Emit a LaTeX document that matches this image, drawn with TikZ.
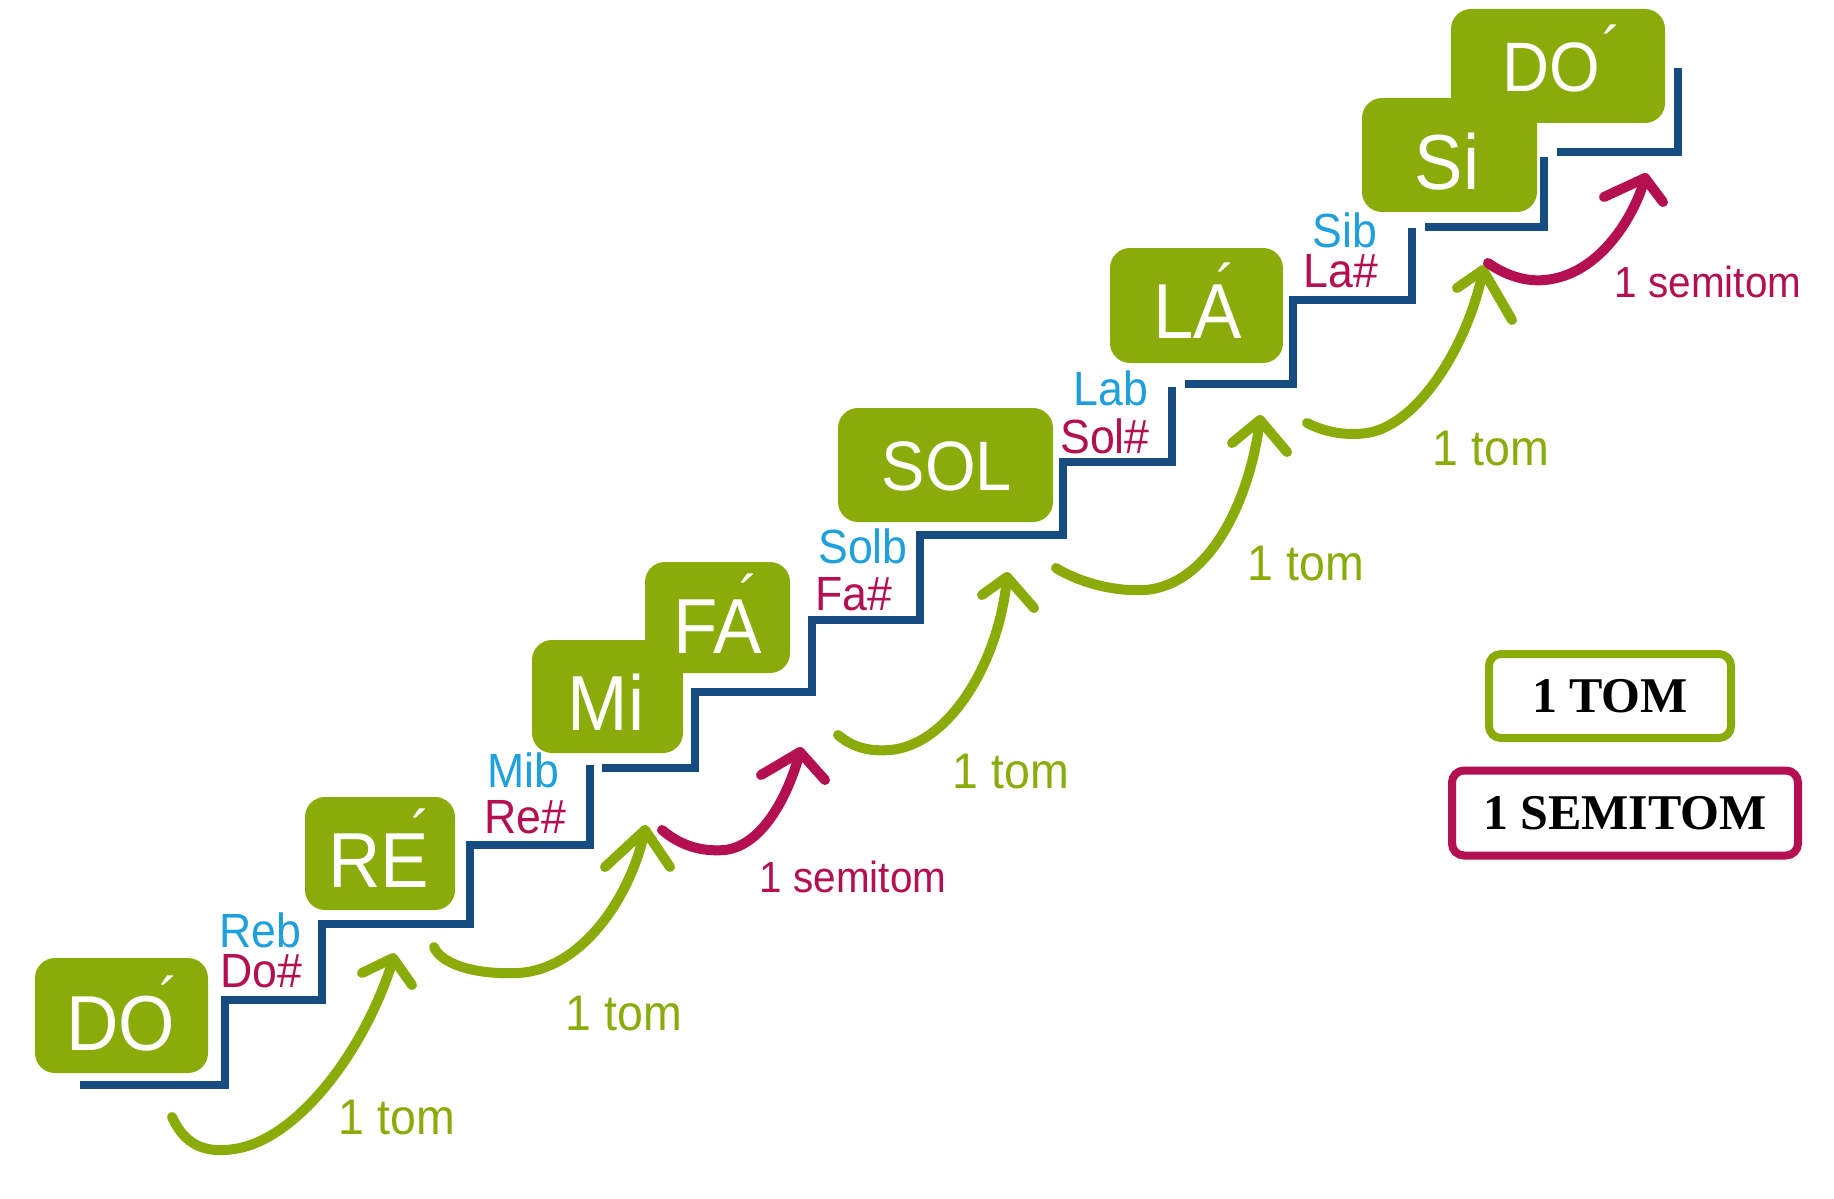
\documentclass[tikz,border=0pt]{standalone}
\usepackage{fontspec}
\setmainfont{Liberation Sans}
\newfontfamily\nsans[FakeStretch=0.93]{Liberation Sans}
\newfontfamily\lserif{Liberation Serif}
\definecolor{notegreen}{RGB}{137,172,10}
\definecolor{stairblue}{RGB}{22,76,128}
\definecolor{flatblue}{RGB}{30,160,220}
\definecolor{sharpred}{RGB}{180,15,80}
\newcommand{\accmark}[2]{\rlap{\kern#1\raisebox{#2}{\nsans\fontsize{24.8}{24.8}\selectfont ´}}}
\begin{document}
\begin{tikzpicture}[x=0.4pt,y=-0.4pt,
  notebox/.style={fill=notegreen, rounded corners=8pt},
  stair/.style={draw=stairblue, line width=3.2pt, line join=miter},
  tomarc/.style={draw=notegreen, line width=4pt, line cap=round, line join=round},
  semiarc/.style={draw=sharpred, line width=4pt, line cap=round, line join=round},
  notelabel/.style={text=white, font=\nsans\fontsize{31.2}{31.2}\selectfont, anchor=base, inner sep=0pt},
  smalllabel/.style={text=white, font=\nsans\fontsize{28}{28}\selectfont, anchor=base, inner sep=0pt},
  flatlabel/.style={text=flatblue, font=\nsans\fontsize{19.2}{19.2}\selectfont, anchor=base, inner sep=0pt},
  sharplabel/.style={text=sharpred, font=\nsans\fontsize{19.2}{19.2}\selectfont, anchor=base, inner sep=0pt},
  tomlabel/.style={text=notegreen, font=\nsans\fontsize{20}{20}\selectfont, anchor=base, inner sep=0pt},
  semilabel/.style={text=sharpred, font=\nsans\fontsize{17.4}{17.4}\selectfont, anchor=base, inner sep=0pt},
  keybox/.style={draw, line width=3.2pt, rounded corners=4.8pt, fill=white, text=black,
     font=\lserif\bfseries\fontsize{20}{20}\selectfont, inner sep=0pt}
]
\useasboundingbox (0,0) rectangle (1834,1199);

% staircase
\draw[stair] (80,1085) -- (225,1085) -- (225,1000) -- (322,1000) -- (322,924) -- (470,924)
   -- (470,845) -- (590,845) -- (590,765);
\draw[stair] (602,768) -- (695,768) -- (695,692) -- (812,692) -- (812,620) -- (920,620)
   -- (920,535) -- (1063,535) -- (1063,462) -- (1172,462) -- (1172,387);
\draw[stair] (1185,384) -- (1293,384) -- (1293,300) -- (1412,300) -- (1412,228);
\draw[stair] (1425,227) -- (1544,227) -- (1544,157);
\draw[stair] (1557,152) -- (1678,152) -- (1678,68);

% note boxes
\fill[notebox] (35,958) rectangle (208,1073);
\fill[notebox] (305,797) rectangle (455,910);
\fill[notebox] (532,640) rectangle (683,753);
\fill[notebox] (645,562) rectangle (790,673);
\fill[notebox] (838,408) rectangle (1053,522);
\fill[notebox] (1110,248) rectangle (1283,363);
\fill[notebox] (1362,98) rectangle (1537,212);
\fill[notebox] (1451,9) rectangle (1665,123);

% note names
\node[notelabel] (do1) at (121,1050) {DO\accmark{-6.4pt}{11.6pt}};
\node[notelabel] (re) at (379,887) {RE\accmark{-7.2pt}{13.2pt}};
\node[notelabel] (mi) at (606,730) {Mi};
\node[notelabel] (fa) at (718,653) {FA\accmark{-9.2pt}{13.6pt}};
\node[smalllabel] (sol) at (947,490) {SOL};
\node[notelabel] (la) at (1198,338) {LA\accmark{-10.4pt}{12pt}};
\node[notelabel] (si) at (1447,190) {Si};
\node[smalllabel] (do2) at (1551,92) {DO\accmark{1pt}{8.4pt}};

% accidentals
\node[flatlabel] (reb) at (260,947) {Reb};
\node[sharplabel] (dos) at (261,987) {Do\#};
\node[flatlabel] (mib) at (523,787) {Mib};
\node[sharplabel] (res) at (525,833) {Re\#};
\node[flatlabel] (solb) at (863,563) {Solb};
\node[sharplabel] (fas) at (854,610) {Fa\#};
\node[flatlabel] (lab) at (1111,405) {Lab};
\node[sharplabel] (sols) at (1105,453) {Sol\#};
\node[flatlabel] (sib) at (1345,248) {Sib};
\node[sharplabel] (las) at (1341,287) {La\#};

% interval arrows
\draw[tomarc] (172,1117) .. controls (185,1145) and (205,1155) .. (240,1148)
   .. controls (300,1135) and (365,1050) .. (393,960);
\draw[tomarc] (362,973) -- (393,958) -- (412,985);
\node[tomlabel] (t1) at (397,1134) {1 tom};

\draw[tomarc] (434,947) .. controls (440,962) and (470,975) .. (518,973)
   .. controls (580,970) and (630,900) .. (645,830);
\draw[tomarc] (605,867) -- (645,830) -- (670,867);
\node[tomlabel] (t2) at (624,1030) {1 tom};

\draw[semiarc] (662,830) .. controls (680,845) and (700,852) .. (725,850)
   .. controls (765,845) and (790,790) .. (800,752);
\draw[semiarc] (761,775) -- (800,752) -- (825,780);
\node[semilabel] (s1) at (853,892) {1 semitom};

\draw[tomarc] (838,735) .. controls (850,745) and (865,752) .. (890,750)
   .. controls (950,745) and (1000,660) .. (1007,577);
\draw[tomarc] (982,595) -- (1007,577) -- (1034,608);
\node[tomlabel] (t3) at (1011,788) {1 tom};

\draw[tomarc] (1056,568) .. controls (1075,580) and (1110,592) .. (1145,590)
   .. controls (1210,585) and (1250,500) .. (1260,420);
\draw[tomarc] (1232,443) -- (1260,420) -- (1287,452);
\node[tomlabel] (t4) at (1306,580) {1 tom};

\draw[tomarc] (1307,423) .. controls (1325,432) and (1345,436) .. (1367,433)
   .. controls (1420,425) and (1470,340) .. (1483,270);
\draw[tomarc] (1457,288) -- (1483,270) -- (1512,320);
\node[tomlabel] (t5) at (1491,465) {1 tom};

\draw[semiarc] (1488,263) .. controls (1505,275) and (1525,282) .. (1545,280)
   .. controls (1600,275) and (1635,215) .. (1645,178);
\draw[semiarc] (1604,197) -- (1645,178) -- (1663,202);
\node[semilabel] (s2) at (1708,298) {1 semitom};

% legend
\node[keybox, draw=notegreen, minimum width=96.8pt, minimum height=33.6pt] (tomkey) at (1610,696) {1 TOM};
\node[keybox, draw=sharpred, minimum width=138.4pt, minimum height=34pt] (semikey) at (1625,813) {1 SEMITOM};
\end{tikzpicture}
\end{document}
